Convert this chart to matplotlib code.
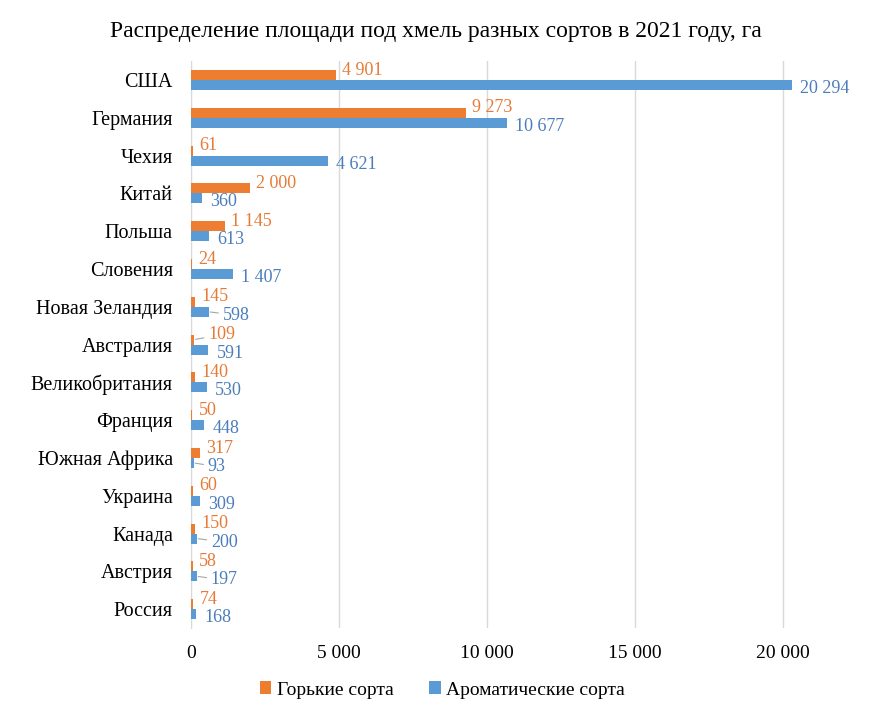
import matplotlib
matplotlib.use("Agg")
import matplotlib.pyplot as plt
import numpy as np

plt.rcParams['font.family'] = ['Liberation Serif', 'DejaVu Serif']

title = "Распределение площади под хмель разных сортов в 2021 году, га"
countries = ["США", "Германия", "Чехия", "Китай", "Польша", "Словения", "Новая Зеландия",
             "Австралия", "Великобритания", "Франция", "Южная Африка", "Украина", "Канада",
             "Австрия", "Россия"]
bitter = [4901, 9273, 61, 2000, 1145, 24, 145, 109, 140, 50, 317, 60, 150, 58, 74]
aroma = [20294, 10677, 4621, 360, 613, 1407, 598, 591, 530, 448, 93, 309, 200, 197, 168]
series_names = ["Горькие сорта", "Ароматические сорта"]
xticks = [0, 5000, 10000, 15000, 20000]

# labels moved aside with a leader line (label placement only, by category index)
bitter_leader = {7}
aroma_leader = {6, 10, 12, 13}

c_or = "#ED7D31"
c_bl = "#5B9BD5"
c_or_txt = "#E67A36"
c_bl_txt = "#4A7DBA"

def fmt(v):
    return f"{v:,}".replace(",", " ")

fig = plt.figure(figsize=(8.85, 7.14), dpi=100)
ax = fig.add_axes([0.2158, 0.1204, 0.7277, 0.794])

y = np.arange(len(countries))
h = 0.265
ax.barh(y - h/2, bitter, height=h, color=c_or, label=series_names[0], zorder=3)
ax.barh(y + h/2, aroma, height=h, color=c_bl, label=series_names[1], zorder=3)

for i, (yi, v) in enumerate(zip(y, bitter)):
    if i in bitter_leader:
        ax.annotate(fmt(v), (v, yi - h/2), xytext=(10, 3.5), textcoords="offset points",
                    ha="left", va="center", color=c_or_txt, fontsize=13,
                    arrowprops=dict(arrowstyle="-", color="#A6A6A6", lw=0.8,
                                    shrinkA=1, shrinkB=1))
    else:
        ax.annotate(fmt(v), (v, yi - h/2), xytext=(4.5, 3.5), textcoords="offset points",
                    ha="left", va="center", color=c_or_txt, fontsize=13)
for i, (yi, v) in enumerate(zip(y, aroma)):
    if i in aroma_leader:
        ax.annotate(fmt(v), (v, yi + h/2), xytext=(10, -2.5), textcoords="offset points",
                    ha="left", va="center", color=c_bl_txt, fontsize=13,
                    arrowprops=dict(arrowstyle="-", color="#A6A6A6", lw=0.8,
                                    shrinkA=1, shrinkB=1))
    else:
        ax.annotate(fmt(v), (v, yi + h/2), xytext=(6, -2.5), textcoords="offset points",
                    ha="left", va="center", color=c_bl_txt, fontsize=13)

ax.set_ylim(len(countries) - 0.5, -0.5)
ax.set_xlim(0, 21750)
ax.set_yticks(y)
ax.set_yticklabels(countries, fontsize=14.5)
ax.set_xticks(xticks)
ax.set_xticklabels([fmt(t) for t in xticks], fontsize=14)
ax.tick_params(axis='y', length=0, pad=13)
ax.tick_params(axis='x', length=0, pad=12.5)
for s in ["top", "right", "bottom"]:
    ax.spines[s].set_visible(False)
ax.spines["left"].set_color("#D9D9D9")
ax.grid(axis="x", color="#D9D9D9", linewidth=1, zorder=0)
ax.set_axisbelow(True)

fig.text(0.493, 1 - 31/714, title, fontsize=17, ha="center", va="center")
fig.legend(loc="center", bbox_to_anchor=(0.5, 24/714), ncol=2, frameon=False,
           fontsize=14, handlelength=0.6, handleheight=0.6, columnspacing=1.8,
           handletextpad=0.3)
fig.savefig("out.png", dpi=100)
